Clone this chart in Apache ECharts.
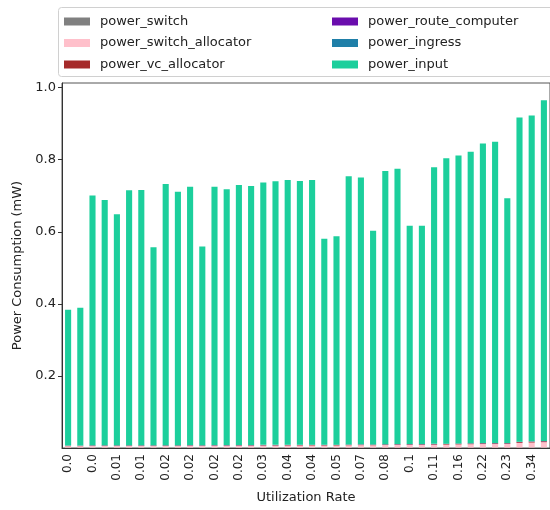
<!DOCTYPE html>
<html>
<head>
<meta charset="utf-8">
<script src="https://cdn.jsdelivr.net/npm/echarts@6/dist/echarts.min.js"></script>
<style>html,body{margin:0;padding:0;background:#fff}#c{width:550px;height:510px}</style>
</head>
<body>
<div id="c"></div>
<script>
// Utilization rate categories (every other one is shown as a tick label)
var categories = ['0.0','0.0','0.0','0.0','0.01','0.01','0.01','0.01','0.02','0.02',
  '0.02','0.02','0.02','0.02','0.02','0.02','0.03','0.03','0.04','0.04',
  '0.04','0.04','0.05','0.06','0.07','0.07','0.08','0.09','0.1','0.1',
  '0.11','0.13','0.16','0.19','0.22','0.22','0.23','0.29','0.34','0.35'];

// total bar heights (mW)
var totals = [0.384,0.389,0.701,0.688,0.649,0.715,0.716,0.557,0.733,0.711,
  0.725,0.559,0.725,0.718,0.730,0.727,0.737,0.740,0.744,0.741,
  0.744,0.581,0.588,0.754,0.751,0.603,0.769,0.775,0.617,0.617,
  0.779,0.804,0.812,0.822,0.845,0.850,0.693,0.917,0.923,0.965];

var powerSwitch = [0.0010,0.0010,0.0010,0.0010,0.0010,0.0010,0.0010,0.0010,0.0010,0.0010,
  0.0010,0.0010,0.0010,0.0010,0.0010,0.0010,0.0010,0.0010,0.0010,0.0010,
  0.0010,0.0010,0.0010,0.0010,0.0010,0.0010,0.0010,0.0010,0.0010,0.0010,
  0.0010,0.0010,0.0010,0.0010,0.0010,0.0010,0.0010,0.0012,0.0012,0.0012];
var powerSwitchAllocator = [0.0040,0.0040,0.0045,0.0045,0.0045,0.0047,0.0047,0.0045,0.0048,0.0048,
  0.0050,0.0048,0.0050,0.0050,0.0052,0.0052,0.0055,0.0055,0.0058,0.0058,
  0.0060,0.0058,0.0060,0.0065,0.0068,0.0066,0.0072,0.0075,0.0075,0.0075,
  0.0080,0.0085,0.0090,0.0095,0.0100,0.0100,0.0100,0.0130,0.0140,0.0150];
var powerVcAllocator = [0.0010,0.0010,0.0012,0.0012,0.0012,0.0012,0.0012,0.0012,0.0012,0.0012,
  0.0012,0.0012,0.0012,0.0012,0.0013,0.0013,0.0013,0.0013,0.0013,0.0013,
  0.0014,0.0013,0.0014,0.0014,0.0015,0.0015,0.0015,0.0015,0.0016,0.0016,
  0.0016,0.0017,0.0018,0.0018,0.0019,0.0019,0.0019,0.0022,0.0023,0.0024];
var powerRouteComputer = [0.0002,0.0002,0.0003,0.0003,0.0003,0.0003,0.0003,0.0003,0.0003,0.0003,
  0.0003,0.0003,0.0003,0.0003,0.0003,0.0003,0.0003,0.0003,0.0003,0.0003,
  0.0003,0.0003,0.0003,0.0003,0.0003,0.0003,0.0003,0.0003,0.0003,0.0003,
  0.0003,0.0003,0.0003,0.0003,0.0003,0.0003,0.0003,0.0004,0.0004,0.0004];
var powerIngress = [0.0005,0.0005,0.0006,0.0006,0.0006,0.0006,0.0006,0.0006,0.0006,0.0006,
  0.0006,0.0006,0.0006,0.0006,0.0006,0.0006,0.0006,0.0006,0.0006,0.0006,
  0.0006,0.0006,0.0006,0.0006,0.0006,0.0006,0.0006,0.0006,0.0006,0.0006,
  0.0006,0.0006,0.0006,0.0006,0.0006,0.0006,0.0006,0.0007,0.0007,0.0007];
var powerInput = totals.map(function (t, i) {
  return +(t - powerSwitch[i] - powerSwitchAllocator[i] - powerVcAllocator[i]
    - powerRouteComputer[i] - powerIngress[i]).toFixed(4);
});

var seriesNames = ['power_switch','power_switch_allocator','power_vc_allocator',
  'power_route_computer','power_ingress','power_input'];
var seriesColors = ['#808080','#ffc0cb','#a52a2a','#6a0dad','#1f7fa8','#1ccf9c'];
var seriesData = [powerSwitch, powerSwitchAllocator, powerVcAllocator,
  powerRouteComputer, powerIngress, powerInput];

var FONT = 'DejaVu Sans';
var chart = echarts.init(document.getElementById('c'), null, {renderer: 'canvas'});
var legendText = {fontFamily: FONT, fontSize: 13, color: '#222', lineHeight: 15, padding: [0, 0, 0, 5]};
chart.setOption({
  animation: false,
  textStyle: {fontFamily: FONT},
  grid: {left: 62, top: 83, width: 490, bottom: 62, show: true, borderColor: '#555', borderWidth: 1, backgroundColor: 'transparent'},
  graphic: [{
    type: 'rect', left: 58, top: 7, shape: {width: 500, height: 69, r: 3},
    style: {fill: '#fff', stroke: '#d0d0d0', lineWidth: 1}, z: 0
  }],
  legend: [{
    data: seriesNames.slice(0, 3), orient: 'vertical', left: 64, top: 14, padding: 0,
    itemWidth: 26, itemHeight: 8, itemGap: 6.5, icon: 'rect', textStyle: legendText, z: 5
  }, {
    data: seriesNames.slice(3), orient: 'vertical', left: 332, top: 14, padding: 0,
    itemWidth: 26, itemHeight: 8, itemGap: 6.5, icon: 'rect', textStyle: legendText, z: 5
  }],
  xAxis: {
    type: 'category', data: categories,
    name: 'Utilization Rate', nameLocation: 'middle', nameGap: 43,
    nameTextStyle: {fontFamily: FONT, fontSize: 13, color: '#222'},
    axisLine: {lineStyle: {color: '#333'}},
    axisTick: {alignWithLabel: true, interval: 1, length: 4, lineStyle: {color: '#333'}},
    axisLabel: {interval: 1, rotate: 90, margin: 6, fontFamily: FONT, fontSize: 12, color: '#222'},
    splitLine: {show: false}
  },
  yAxis: {
    type: 'value', min: 0, max: 1.013, interval: 0.2,
    name: 'Power Consumption (mW)', nameLocation: 'middle', nameGap: 37,
    nameTextStyle: {fontFamily: FONT, fontSize: 13, color: '#222'},
    axisLine: {show: true, lineStyle: {color: '#333'}},
    axisTick: {show: true, length: 4, lineStyle: {color: '#333'}},
    axisLabel: {showMinLabel: false, showMaxLabel: false, margin: 6, fontFamily: FONT, fontSize: 13, color: '#222',
      formatter: function (v) { return v.toFixed(1); }},
    splitLine: {show: false}
  },
  series: seriesNames.map(function (n, i) {
    return {name: n, type: 'bar', stack: 'total', barWidth: '50%',
      itemStyle: {color: seriesColors[i]}, data: seriesData[i]};
  })
});
</script>
</body>
</html>
